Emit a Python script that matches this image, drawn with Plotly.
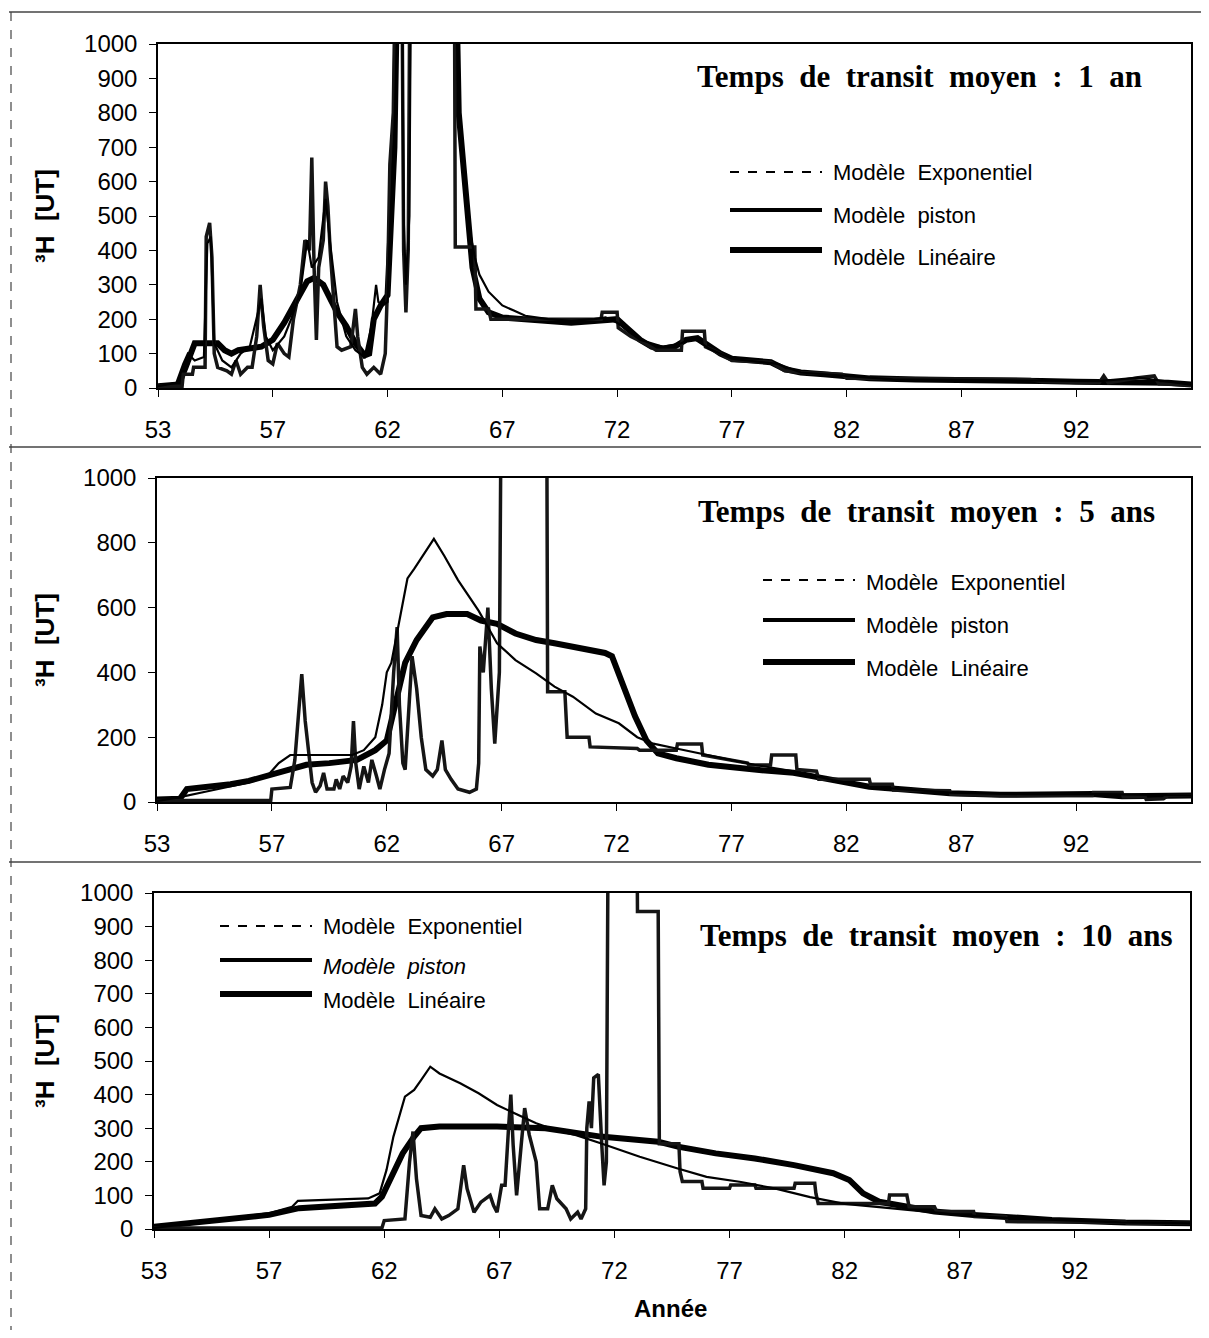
import plotly.graph_objects as go

# ---------------- data (decimal year, tritium in UT) ----------------
TICK_POS = [53, 58, 63, 68, 73, 78, 83, 88, 93]
TICK_LABELS = ["53", "57", "62", "67", "72", "77", "82", "87", "92"]

# Panel 1 : mean transit time 1 year
P1_EXP = [(53, 5), (53.8, 15), (54.1, 70), (54.3, 100), (54.6, 80), (55.0, 90), (55.15, 420), (55.3, 440),
          (55.45, 130), (55.8, 80), (56.2, 60), (56.6, 100), (57.0, 120), (57.3, 200), (57.5, 260), (57.7, 150),
          (58.0, 110), (58.5, 150), (58.8, 200), (59.2, 280), (59.5, 430), (59.7, 350), (60.0, 380), (60.3, 550),
          (60.5, 420), (60.8, 250), (61.2, 150), (61.6, 110), (62.0, 90), (62.3, 180), (62.5, 300), (62.6, 250),
          (62.8, 240), (63.0, 250), (63.1, 450), (63.3, 750), (63.45, 1500), (63.6, 1500), (63.7, 500),
          (63.8, 300), (63.95, 500), (64.05, 1500), (65.9, 1500), (66.1, 780), (66.4, 600), (66.6, 450),
          (66.8, 380), (67.0, 330), (67.4, 280), (68.0, 240), (68.5, 225), (69, 210), (70, 200), (71, 195),
          (72, 200), (72.5, 205), (73, 190), (74, 140), (75, 120), (75.8, 130), (76.3, 145), (77, 115), (78, 85),
          (80, 70), (81, 45), (83, 35), (85, 25), (90, 22), (94, 20), (95.7, 30), (98, 10)]
P1_PIS = [(53.0, 5), (54.05, 5), (54.1, 40), (54.5, 40), (54.55, 60), (55.05, 60), (55.1, 440), (55.25, 480),
          (55.35, 380), (55.45, 100), (55.6, 60), (56.0, 50), (56.2, 40), (56.4, 80), (56.6, 40), (56.9, 60),
          (57.1, 60), (57.3, 150), (57.45, 300), (57.6, 180), (57.8, 80), (58.0, 70), (58.2, 130), (58.5, 100),
          (58.7, 90), (58.9, 200), (59.2, 300), (59.4, 430), (59.6, 400), (59.7, 670), (59.8, 350), (59.9, 140),
          (60.0, 350), (60.2, 430), (60.3, 600), (60.4, 530), (60.5, 400), (60.7, 200), (60.8, 120), (61.0, 110),
          (61.4, 120), (61.6, 230), (61.7, 150), (61.9, 60), (62.1, 40), (62.4, 60), (62.7, 40), (62.9, 100),
          (63.0, 300), (63.1, 650), (63.25, 800), (63.4, 1500), (63.6, 1500), (63.7, 400), (63.8, 220),
          (63.9, 400), (64.0, 1500), (65.9, 1500), (65.95, 410), (66.8, 410), (66.85, 230), (67.4, 230),
          (67.5, 200), (72.3, 200), (72.35, 220), (73.0, 220), (73.05, 175), (73.6, 150), (74.2, 130),
          (74.7, 110), (75.8, 110), (75.85, 165), (76.8, 165), (76.85, 120), (77.5, 100), (78.0, 80), (79.7, 75),
          (80.3, 50), (81.0, 45), (82.8, 40), (83.0, 28), (91.0, 25), (91.5, 18), (94.0, 15), (94.2, 35),
          (94.4, 15), (95.7, 30), (96.4, 35), (96.6, 12), (98.0, 8)]
P1_LIN = [(53.0, 5), (53.9, 10), (54.2, 60), (54.45, 110), (54.6, 130), (55.0, 130), (55.6, 130), (55.9, 110),
          (56.2, 100), (56.5, 110), (57.0, 115), (57.5, 120), (58.0, 140), (58.5, 190), (59.0, 250), (59.5, 310),
          (59.8, 320), (60.2, 300), (60.5, 260), (60.8, 220), (61.2, 180), (61.6, 130), (62.0, 95), (62.2, 100),
          (62.4, 200), (62.7, 240), (63.0, 270), (63.1, 400), (63.3, 700), (63.5, 1500), (65.9, 1500),
          (66.1, 800), (66.4, 550), (66.7, 350), (67.0, 260), (67.4, 220), (68.0, 205), (69, 200), (70, 195),
          (71, 190), (72, 195), (73, 200), (73.5, 170), (74, 140), (74.5, 120), (75, 115), (75.5, 120), (76, 140),
          (76.5, 145), (77, 120), (77.5, 100), (78, 85), (79, 80), (79.7, 75), (80.3, 55), (81, 45), (82, 40),
          (83, 35), (84, 28), (86, 25), (90, 24), (91.5, 20), (93, 18), (95, 18), (97, 15), (98, 10)]

# Panel 2 : mean transit time 5 years
P2_EXP = [(53, 3), (54, 15), (55, 30), (56, 45), (57, 60), (57.8, 80), (58.3, 120), (58.8, 145), (61.5, 145),
          (62, 160), (62.5, 200), (62.8, 300), (63.0, 400), (63.2, 430), (63.5, 540), (63.9, 690), (64.2, 720),
          (65.05, 812), (65.5, 760), (66.1, 685), (67.0, 590), (67.8, 490), (68.6, 438), (69.5, 397),
          (70.3, 356), (71.1, 325), (72.1, 273), (73.1, 243), (73.9, 200), (74.6, 180), (75.6, 165), (77.3, 140),
          (79.0, 115), (80.7, 95), (82.4, 68), (84.0, 47), (87.5, 29), (90.8, 24), (94.2, 24), (98.0, 20)]
P2_PIS = [(53, 5), (57.95, 5), (58.0, 40), (58.8, 45), (59.0, 130), (59.2, 300), (59.3, 395), (59.45, 250),
          (59.6, 150), (59.75, 60), (59.9, 30), (60.1, 50), (60.25, 90), (60.4, 40), (60.7, 40), (60.8, 70),
          (60.95, 40), (61.1, 80), (61.3, 60), (61.45, 110), (61.55, 250), (61.65, 120), (61.8, 40), (62.0, 110),
          (62.2, 60), (62.35, 130), (62.55, 80), (62.7, 40), (62.9, 100), (63.1, 150), (63.3, 400), (63.45, 540),
          (63.55, 300), (63.7, 120), (63.8, 100), (63.95, 300), (64.1, 450), (64.3, 350), (64.5, 200),
          (64.7, 100), (65.0, 80), (65.2, 100), (65.4, 190), (65.55, 100), (65.8, 70), (66.1, 40), (66.6, 30),
          (66.9, 40), (67.0, 120), (67.05, 480), (67.2, 400), (67.4, 600), (67.55, 350), (67.7, 180), (67.9, 400),
          (68.0, 1500), (69.95, 1500), (70.0, 340), (70.75, 340), (70.85, 200), (71.8, 200), (71.85, 170),
          (73.9, 165), (74.0, 160), (75.6, 160), (75.65, 179), (76.7, 179), (76.75, 145), (77.5, 135),
          (78.7, 120), (78.75, 114), (79.7, 114), (79.75, 145), (80.8, 145), (80.85, 100), (81.7, 95),
          (81.8, 70), (84.0, 70), (84.05, 55), (85.0, 55), (85.05, 37), (87.5, 35), (87.55, 24), (89.7, 22),
          (89.75, 20), (93.7, 20), (93.75, 29), (95.0, 29), (95.05, 16), (96.0, 16), (96.05, 8), (96.8, 10),
          (97.0, 20), (98.0, 20)]
P2_LIN = [(53, 8), (54.0, 10), (54.3, 40), (55.0, 45), (56.2, 55), (57.0, 65), (57.8, 80), (58.7, 100),
          (59.5, 115), (60.5, 120), (61.7, 130), (62.5, 160), (63.0, 190), (63.3, 280), (63.8, 430), (64.3, 500),
          (65.0, 570), (65.6, 580), (66.5, 580), (67.1, 560), (67.8, 550), (68.6, 520), (69.5, 500), (70.3, 490),
          (71.1, 480), (72.0, 470), (72.5, 460), (72.8, 450), (73.3, 355), (73.8, 265), (74.3, 190), (74.8, 150),
          (75.6, 135), (77.0, 115), (79.0, 100), (80.7, 90), (81.5, 80), (82.7, 63), (84.0, 47), (85.8, 37),
          (87.5, 27), (89.7, 22), (93.7, 25), (95.0, 18), (98.0, 20)]

# Panel 3 : mean transit time 10 years
P3_EXP = [(53, 3), (54.6, 17), (56.3, 32), (58.0, 47), (59.0, 66), (59.25, 84), (62.3, 91), (62.8, 106),
          (63.1, 176), (63.4, 275), (63.9, 394), (64.3, 414), (64.6, 443), (65.0, 483), (65.4, 463), (66.3, 434),
          (67.1, 404), (67.9, 369), (68.8, 340), (69.6, 315), (70.4, 295), (71.3, 280), (72.4, 255), (74.1, 215),
          (75.75, 180), (77.0, 155), (78.5, 140), (80.0, 120), (81.5, 95), (83.0, 75), (84.5, 65), (86.0, 55),
          (88.0, 42), (90.0, 33), (92.0, 27), (95.0, 20), (98.0, 17)]
P3_PIS = [(53, 3), (62.9, 3), (63.0, 25), (63.9, 30), (64.1, 200), (64.25, 290), (64.4, 150), (64.6, 40),
          (65.0, 35), (65.2, 60), (65.5, 30), (65.8, 40), (66.2, 60), (66.45, 190), (66.6, 120), (66.9, 50),
          (67.2, 80), (67.6, 100), (67.75, 70), (67.9, 50), (68.1, 130), (68.25, 130), (68.4, 300), (68.5, 400),
          (68.6, 250), (68.75, 100), (68.95, 250), (69.1, 360), (69.3, 280), (69.6, 200), (69.75, 60), (70.1, 60),
          (70.3, 130), (70.5, 90), (70.9, 60), (71.1, 30), (71.4, 50), (71.55, 30), (71.75, 60), (71.8, 300),
          (71.9, 380), (72.0, 300), (72.1, 450), (72.3, 460), (72.45, 250), (72.55, 130), (72.65, 200),
          (72.75, 1500), (73.95, 1500), (74.0, 945), (74.9, 945), (74.95, 254), (75.8, 254), (75.85, 171),
          (75.95, 141), (76.8, 141), (76.85, 121), (78.0, 121), (78.05, 131), (79.1, 131), (79.15, 121),
          (80.8, 121), (80.85, 136), (81.7, 136), (81.75, 106), (81.85, 76), (84.9, 76), (84.95, 101),
          (85.7, 101), (85.8, 66), (86.9, 66), (87.0, 52), (88.6, 52), (88.65, 37), (90.0, 37), (90.05, 22),
          (95.2, 20), (95.25, 17), (98.0, 17)]
P3_LIN = [(53, 7), (54.1, 14), (55.5, 22), (56.6, 32), (58.0, 42), (59.3, 62), (60.4, 66), (62.1, 71), (62.6, 76),
          (62.9, 96), (63.3, 156), (63.8, 225), (64.3, 275), (64.6, 300), (65.4, 305), (67.9, 305), (70.0, 300),
          (72.4, 275), (74.9, 260), (75.75, 245), (77.4, 225), (79.1, 210), (80.8, 190), (82.5, 166),
          (83.2, 146), (83.8, 106), (84.5, 81), (85.9, 66), (86.9, 52), (88.6, 42), (90.3, 35), (92.0, 27),
          (95.2, 19), (98.0, 17)]

TITLES = ["Temps de transit moyen : 1 an", "Temps de transit moyen : 5 ans", "Temps de transit moyen : 10 ans"]
LEGEND_NAMES = ["Modèle Exponentiel", "Modèle piston", "Modèle Linéaire"]

# ---------------- figure ----------------
# the page body adds an 8 px margin; the figure is placed so that page pixels match the reference
OFF = 8
W, H = 1209 - 2 * OFF, 1338 - 2 * OFF
SANS = "Liberation Sans, Arial, Helvetica, sans-serif"
SERIF = "Liberation Serif, Times New Roman, serif"
NB = "\u00a0"


def px(v):
    return (v - OFF) / W


def py(v):
    return 1 - (v - OFF) / H


panels = [
    dict(exp=P1_EXP, pis=P1_PIS, lin=P1_LIN, x0=158, x1=1191, top=44, bot=388, dtick=100,
         title_right=1144, title_y=76, leg_x0=730, leg_x1=822, leg_tx=831,
         leg_y=[172, 210, 250], leg_ty=[172, 216, 257], italic=False),
    dict(exp=P2_EXP, pis=P2_PIS, lin=P2_LIN, x0=157, x1=1191, top=478, bot=802, dtick=200,
         title_right=1157, title_y=512, leg_x0=763, leg_x1=855, leg_tx=864,
         leg_y=[580, 620, 662], leg_ty=[582, 625, 668], italic=False),
    dict(exp=P3_EXP, pis=P3_PIS, lin=P3_LIN, x0=154, x1=1190, top=893, bot=1229, dtick=100,
         title_right=1175, title_y=935, leg_x0=220, leg_x1=312, leg_tx=321,
         leg_y=[926, 960, 994], leg_ty=[926, 966, 1000], italic=True),
]

shapes = []
annotations = []
axes = {}
traces = []

for i, p in enumerate(panels):
    sfx = "" if i == 0 else str(i + 1)
    xa, ya = "x" + sfx, "y" + sfx
    for data, width, color in ((p["lin"], 6, "#000000"), (p["pis"], 3.5, "#151515"), (p["exp"], 2.2, "#000000")):
        traces.append(go.Scatter(x=[d[0] for d in data], y=[d[1] for d in data], mode="lines",
                                 xaxis=xa, yaxis=ya, showlegend=False,
                                 line=dict(color=color, width=width), hoverinfo="skip"))
    axes["xaxis" + sfx] = dict(
        domain=[px(p["x0"]), px(p["x1"])], anchor=ya, range=[53, 98],
        tickmode="array", tickvals=TICK_POS, ticktext=TICK_LABELS,
        ticks="outside", ticklen=7, tickwidth=1.2, tickcolor="black",
        showline=True, linecolor="black", linewidth=1.5, mirror=True,
        showgrid=False, zeroline=False, automargin=False,
        tickfont=dict(family=SANS, size=24, color="black"), ticklabelstandoff=12)
    axes["yaxis" + sfx] = dict(
        domain=[py(p["bot"]), py(p["top"])], anchor=xa, range=[0, 1000],
        tickmode="linear", tick0=0, dtick=p["dtick"],
        ticks="outside", ticklen=7, tickwidth=1.2, tickcolor="black",
        showline=True, linecolor="black", linewidth=1.5, mirror=True,
        showgrid=False, zeroline=False, automargin=False,
        tickfont=dict(family=SANS, size=24, color="black"), ticklabelstandoff=7)

    # panel title
    annotations.append(dict(
        text="<b>" + TITLES[i].replace(" ", NB + NB) + "</b>", xref="paper", yref="paper",
        x=px(p["title_right"]), y=py(p["title_y"]), xanchor="right", yanchor="middle",
        showarrow=False, font=dict(family=SERIF, size=31, color="black")))
    # y axis title
    annotations.append(dict(
        text="<b>³H" + NB + NB + "[UT]</b>", xref="paper", yref="paper",
        x=px(45), y=py((p["top"] + p["bot"]) / 2), xanchor="center", yanchor="middle",
        textangle=-90, showarrow=False, font=dict(family=SANS, size=26, color="black")))
    # legend (line samples + labels)
    styles = [dict(width=2, dash="dash"), dict(width=4, dash="solid"), dict(width=6, dash="solid")]
    for k in range(3):
        shapes.append(dict(type="line", xref="paper", yref="paper",
                           x0=px(p["leg_x0"]), x1=px(p["leg_x1"]), y0=py(p["leg_y"][k]), y1=py(p["leg_y"][k]),
                           line=dict(color="black", **styles[k])))
        name = LEGEND_NAMES[k].replace(" ", NB + NB)
        if p["italic"] and k == 1:
            name = "<i>" + name + "</i>"
        annotations.append(dict(
            text=name, xref="paper", yref="paper", x=px(p["leg_tx"]), y=py(p["leg_ty"][k]),
            xanchor="left", yanchor="middle", showarrow=False,
            font=dict(family=SANS, size=22, color="black")))

# x axis title
annotations.append(dict(text="<b>Année</b>", xref="paper", yref="paper", x=px(670), y=py(1308),
                        xanchor="center", yanchor="middle", showarrow=False,
                        font=dict(family=SANS, size=24, color="black")))

# scanned page frame
frame = dict(color="#444444", width=1.5)
for yy in (12, 447, 862):
    shapes.append(dict(type="line", xref="paper", yref="paper", x0=px(9), x1=1, y0=py(yy), y1=py(yy),
                       line=frame))
shapes.append(dict(type="line", xref="paper", yref="paper", x0=px(11), x1=px(11), y0=py(12), y1=0,
                   line=dict(color="#444444", width=1.2, dash="dash")))

fig = go.Figure(data=traces)
fig.update_layout(
    width=W, height=H, margin=dict(l=0, r=0, t=0, b=0),
    paper_bgcolor="white", plot_bgcolor="white",
    showlegend=False, shapes=shapes, annotations=annotations, **axes)

fig.write_html("out.html", config={"displayModeBar": False})
